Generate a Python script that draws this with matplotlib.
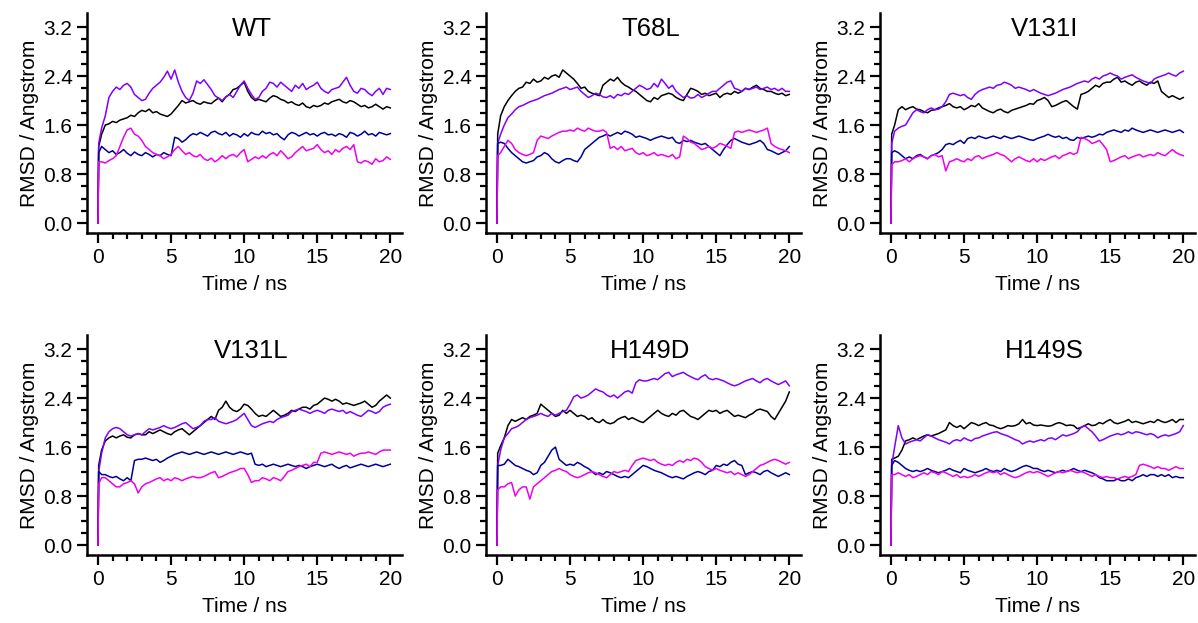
import numpy as np
import matplotlib
matplotlib.use('Agg')
import matplotlib.pyplot as plt
from matplotlib.ticker import FixedLocator, FormatStrFormatter

plt.rcParams['font.family'] = ['Liberation Sans', 'DejaVu Sans']

# time axis: t=0, first frame, then every 0.25 ns up to 20 ns
time_ns = np.concatenate([[0.0, 0.05], np.arange(1, 81) * 0.25])

panel_names = ['WT', 'T68L', 'V131I', 'V131L', 'H149D', 'H149S']

# ---------------- WT ----------------
wt_black = [0, 1.25,
    1.45, 1.6, 1.62, 1.66, 1.64, 1.68, 1.7, 1.72, 1.76, 1.74, 1.8, 1.84, 1.82, 1.86, 1.8, 1.82, 1.78, 1.76, 1.74, 1.78,
    1.85, 1.92, 2.0, 1.96, 1.98, 2.0, 1.96, 1.94, 1.98, 1.96, 1.95, 2.0, 2.04, 1.98, 2.06, 2.1, 2.18, 2.2, 2.25, 2.3,
    2.15, 2.05, 2.0, 2.02, 2.0, 1.98, 2.04, 2.08, 2.06, 2.02, 2.0, 1.96, 1.98, 1.94, 1.92, 1.96, 1.9, 1.88, 1.92, 1.9,
    1.92, 1.96, 1.94, 1.98, 2.0, 2.02, 1.98, 1.96, 2.0, 1.98, 1.94, 1.9, 1.92, 1.88, 1.9, 1.94, 1.9, 1.86, 1.9, 1.88]
wt_purple = [0, 1.3,
    1.55, 1.75, 2.05, 2.15, 2.22, 2.18, 2.25, 2.28, 2.22, 2.1, 2.05, 2.0, 2.02, 2.12, 2.2, 2.25, 2.3, 2.38, 2.48, 2.35,
    2.5, 2.3, 2.15, 2.05, 2.0, 2.12, 2.32, 2.28, 2.34, 2.26, 2.18, 2.08, 2.04, 2.0, 2.06, 2.1, 2.05, 2.15, 2.25, 2.32,
    2.2, 2.1, 2.02, 2.05, 2.15, 2.2, 2.3, 2.28, 2.22, 2.3, 2.25, 2.2, 2.15, 2.25, 2.2, 2.28, 2.18, 2.22, 2.25, 2.3,
    2.2, 2.15, 2.12, 2.18, 2.2, 2.22, 2.3, 2.38, 2.25, 2.15, 2.12, 2.2, 2.18, 2.12, 2.08, 2.15, 2.2, 2.1, 2.2, 2.18]
wt_blue = [0, 1.15,
    1.25, 1.2, 1.15, 1.18, 1.12, 1.15, 1.2, 1.14, 1.1, 1.16, 1.12, 1.1, 1.15, 1.12, 1.08, 1.12, 1.1, 1.15, 1.12, 1.1,
    1.4, 1.38, 1.32, 1.36, 1.42, 1.46, 1.44, 1.48, 1.45, 1.42, 1.48, 1.5, 1.46, 1.44, 1.48, 1.42, 1.46, 1.44, 1.4, 1.46,
    1.42, 1.48, 1.45, 1.44, 1.5, 1.46, 1.48, 1.44, 1.46, 1.4, 1.36, 1.44, 1.48, 1.46, 1.42, 1.45, 1.48, 1.44, 1.46, 1.42,
    1.46, 1.48, 1.44, 1.45, 1.42, 1.46, 1.44, 1.4, 1.48, 1.46, 1.42, 1.45, 1.5, 1.44, 1.46, 1.42, 1.48, 1.46, 1.44, 1.46]
wt_magenta = [0, 1.0,
    1.0, 0.98, 1.02, 1.05, 1.1, 1.25, 1.4, 1.52, 1.55, 1.45, 1.42, 1.35, 1.25, 1.2, 1.15, 1.12, 1.1, 1.05, 1.08, 1.12,
    1.2, 1.25, 1.18, 1.12, 1.15, 1.1, 1.08, 1.12, 1.05, 1.02, 1.06, 1.0, 1.04, 1.1, 1.05, 1.1, 1.12, 1.08, 1.15, 1.2,
    1.0, 1.04, 1.08, 1.05, 1.1, 1.06, 1.12, 1.15, 1.1, 1.18, 1.12, 1.05, 1.08, 1.15, 1.2, 1.25, 1.18, 1.2, 1.22, 1.28,
    1.2, 1.15, 1.18, 1.12, 1.2, 1.16, 1.22, 1.25, 1.2, 1.28, 1.0, 0.98, 1.02, 1.0, 0.96, 1.05, 1.0, 1.02, 1.08, 1.04]

# ---------------- T68L ----------------
t68l_black = [0, 1.45,
    1.75, 1.9, 2.0, 2.08, 2.15, 2.2, 2.22, 2.3, 2.28, 2.35, 2.3, 2.32, 2.38, 2.35, 2.4, 2.42, 2.38, 2.5, 2.45, 2.4,
    2.35, 2.28, 2.2, 2.22, 2.15, 2.12, 2.1, 2.08, 2.25, 2.3, 2.35, 2.32, 2.38, 2.3, 2.25, 2.22, 2.18, 2.15, 2.1, 2.05,
    2.0, 1.98, 2.05, 2.02, 2.08, 2.1, 2.12, 2.1, 2.05, 2.02, 2.0, 2.1, 2.2, 2.18, 2.15, 2.1, 2.12, 2.08, 2.1, 2.12,
    2.05, 2.1, 2.12, 2.1, 2.15, 2.12, 2.15, 2.2, 2.18, 2.22, 2.25, 2.2, 2.18, 2.15, 2.15, 2.12, 2.1, 2.12, 2.08, 2.1]
t68l_purple = [0, 1.3,
    1.45, 1.6, 1.72, 1.78, 1.85, 1.9, 1.92, 1.95, 1.98, 2.0, 2.02, 2.05, 2.08, 2.1, 2.12, 2.15, 2.18, 2.2, 2.22, 2.18,
    2.2, 2.22, 2.15, 2.1, 2.05, 2.08, 2.12, 2.1, 2.06, 2.05, 2.08, 2.04, 2.1, 2.08, 2.12, 2.1, 2.15, 2.2, 2.25, 2.22,
    2.18, 2.2, 2.28, 2.22, 2.35, 2.28, 2.2, 2.25, 2.15, 2.1, 2.05, 2.08, 2.04, 2.05, 2.1, 2.05, 2.08, 2.12, 2.15, 2.15,
    2.2, 2.25, 2.3, 2.32, 2.2, 2.18, 2.15, 2.2, 2.18, 2.2, 2.22, 2.18, 2.2, 2.22, 2.18, 2.2, 2.16, 2.2, 2.15, 2.15]
t68l_blue = [0, 1.3,
    1.32, 1.3, 1.22, 1.15, 1.1, 1.05, 1.0, 0.98, 1.0, 1.02, 1.08, 1.1, 1.15, 1.12, 1.05, 1.0, 0.98, 1.02, 1.05, 1.05,
    1.02, 1.0, 1.08, 1.2, 1.25, 1.3, 1.35, 1.4, 1.42, 1.45, 1.42, 1.45, 1.48, 1.45, 1.5, 1.48, 1.45, 1.4, 1.42, 1.4,
    1.38, 1.35, 1.38, 1.4, 1.42, 1.4, 1.38, 1.4, 1.32, 1.3, 1.35, 1.33, 1.35, 1.32, 1.3, 1.28, 1.3, 1.25, 1.2, 1.15,
    1.1, 1.2, 1.28, 1.35, 1.38, 1.35, 1.32, 1.3, 1.28, 1.3, 1.32, 1.35, 1.3, 1.2, 1.18, 1.15, 1.12, 1.15, 1.18, 1.25]
t68l_magenta = [0, 1.1,
    1.15, 1.25, 1.35, 1.3, 1.2, 1.15, 1.12, 1.1, 1.12, 1.15, 1.35, 1.42, 1.4, 1.38, 1.42, 1.45, 1.48, 1.5, 1.5, 1.52,
    1.5, 1.55, 1.52, 1.5, 1.55, 1.52, 1.5, 1.5, 1.52, 1.48, 1.22, 1.25, 1.2, 1.25, 1.18, 1.2, 1.22, 1.15, 1.12, 1.15,
    1.1, 1.12, 1.15, 1.1, 1.12, 1.1, 1.08, 1.12, 1.05, 1.08, 1.42, 1.38, 1.32, 1.3, 1.25, 1.2, 1.22, 1.25, 1.22, 1.25,
    1.3, 1.28, 1.25, 1.22, 1.48, 1.5, 1.48, 1.5, 1.52, 1.5, 1.48, 1.5, 1.52, 1.55, 1.3, 1.25, 1.22, 1.2, 1.18, 1.15]

# ---------------- V131I ----------------
v131i_black = [0, 1.45,
    1.6, 1.85, 1.9, 1.85, 1.88, 1.9, 1.86, 1.85, 1.82, 1.8, 1.84, 1.85, 1.88, 1.9, 1.92, 1.95, 1.9, 1.88, 1.9, 1.85,
    1.88, 1.92, 1.9, 1.95, 1.88, 1.85, 1.82, 1.8, 1.84, 1.86, 1.82, 1.8, 1.84, 1.86, 1.88, 1.9, 1.92, 1.95, 1.94, 2.0,
    2.02, 2.05, 2.0, 1.9, 1.92, 1.95, 1.98, 2.0, 1.95, 1.9, 1.86, 2.1, 2.12, 2.15, 2.2, 2.25, 2.22, 2.28, 2.3, 2.3,
    2.35, 2.38, 2.3, 2.32, 2.28, 2.25, 2.3, 2.32, 2.28, 2.25, 2.3, 2.28, 2.32, 2.15, 2.1, 2.05, 2.08, 2.05, 2.02, 2.05]
v131i_purple = [0, 1.3,
    1.5, 1.55, 1.58, 1.6, 1.7, 1.8, 1.85, 1.82, 1.8, 1.85, 1.88, 1.85, 1.86, 1.9, 1.98, 2.1, 2.12, 2.1, 2.08, 2.1,
    2.05, 2.02, 2.1, 2.15, 2.18, 2.2, 2.22, 2.2, 2.25, 2.26, 2.3, 2.28, 2.25, 2.2, 2.22, 2.2, 2.18, 2.15, 2.18, 2.15,
    2.12, 2.1, 2.08, 2.1, 2.12, 2.15, 2.18, 2.2, 2.22, 2.25, 2.28, 2.3, 2.32, 2.3, 2.35, 2.38, 2.35, 2.4, 2.42, 2.45,
    2.42, 2.4, 2.35, 2.38, 2.4, 2.42, 2.38, 2.35, 2.32, 2.3, 2.28, 2.35, 2.38, 2.4, 2.42, 2.45, 2.42, 2.4, 2.45, 2.48]
v131i_blue = [0, 1.15,
    1.18, 1.15, 1.1, 1.05, 1.08, 1.05, 1.1, 1.12, 1.08, 1.05, 1.1, 1.12, 1.15, 1.2, 1.28, 1.3, 1.28, 1.32, 1.35, 1.3,
    1.38, 1.4, 1.38, 1.42, 1.4, 1.38, 1.4, 1.42, 1.4, 1.38, 1.42, 1.4, 1.38, 1.4, 1.42, 1.4, 1.38, 1.36, 1.35, 1.38,
    1.4, 1.42, 1.45, 1.42, 1.4, 1.42, 1.38, 1.4, 1.36, 1.35, 1.4, 1.38, 1.4, 1.42, 1.4, 1.42, 1.45, 1.44, 1.48, 1.5,
    1.52, 1.5, 1.48, 1.52, 1.5, 1.55, 1.52, 1.5, 1.48, 1.5, 1.52, 1.5, 1.48, 1.5, 1.52, 1.5, 1.48, 1.5, 1.52, 1.48]
v131i_magenta = [0, 0.95,
    1.0, 1.0, 1.02, 1.05, 1.0, 1.05, 1.08, 1.1, 1.08, 1.05, 1.1, 1.12, 1.08, 1.1, 0.85, 1.0, 1.02, 1.05, 1.02, 1.0,
    1.05, 1.02, 1.08, 1.1, 1.05, 1.08, 1.1, 1.12, 1.15, 1.12, 1.1, 1.05, 1.0, 1.05, 1.08, 1.05, 1.02, 1.0, 1.05, 1.0,
    1.05, 1.02, 1.05, 1.08, 1.1, 1.05, 1.1, 1.12, 1.15, 1.12, 1.15, 1.4, 1.38, 1.35, 1.3, 1.32, 1.35, 1.28, 1.2, 1.0,
    1.02, 1.05, 1.08, 1.1, 1.05, 1.08, 1.1, 1.12, 1.08, 1.1, 1.12, 1.1, 1.15, 1.12, 1.1, 1.15, 1.2, 1.15, 1.12, 1.1]

# ---------------- V131L ----------------
v131l_black = [0, 1.3,
    1.55, 1.7, 1.75, 1.78, 1.75, 1.78, 1.8, 1.76, 1.75, 1.8, 1.82, 1.8, 1.8, 1.85, 1.82, 1.85, 1.88, 1.85, 1.82, 1.8,
    1.85, 1.88, 1.9, 1.85, 1.8, 1.85, 1.9, 1.95, 2.0, 2.05, 2.1, 2.05, 2.2, 2.25, 2.35, 2.25, 2.2, 2.18, 2.22, 2.3,
    2.28, 2.22, 2.15, 2.1, 2.12, 2.1, 2.15, 2.2, 2.15, 2.1, 2.12, 2.15, 2.2, 2.18, 2.22, 2.25, 2.25, 2.22, 2.28, 2.3,
    2.35, 2.4, 2.38, 2.35, 2.38, 2.35, 2.3, 2.32, 2.3, 2.28, 2.3, 2.32, 2.35, 2.3, 2.25, 2.28, 2.35, 2.4, 2.45, 2.4]
v131l_purple = [0, 1.2,
    1.5, 1.75, 1.85, 1.9, 1.92, 1.9, 1.85, 1.8, 1.78, 1.8, 1.82, 1.8, 1.85, 1.9, 1.88, 1.9, 1.92, 1.95, 1.92, 1.9,
    1.92, 1.95, 1.98, 2.0, 1.95, 1.9, 1.92, 1.95, 2.02, 2.05, 2.05, 2.08, 2.02, 2.0, 1.98, 2.0, 2.02, 2.05, 2.1, 2.15,
    2.05, 1.95, 1.92, 1.95, 1.98, 2.0, 2.02, 2.0, 2.05, 2.08, 2.1, 2.12, 2.18, 2.2, 2.22, 2.2, 2.18, 2.15, 2.18, 2.2,
    2.18, 2.15, 2.2, 2.22, 2.2, 2.18, 2.2, 2.15, 2.18, 2.15, 2.12, 2.1, 2.15, 2.2, 2.18, 2.15, 2.18, 2.25, 2.28, 2.3]
v131l_blue = [0, 1.2,
    1.15, 1.15, 1.12, 1.1, 1.12, 1.08, 1.05, 1.1, 1.05, 1.38, 1.4, 1.4, 1.42, 1.4, 1.38, 1.4, 1.35, 1.38, 1.42, 1.45,
    1.48, 1.5, 1.52, 1.5, 1.48, 1.5, 1.52, 1.5, 1.48, 1.5, 1.52, 1.5, 1.48, 1.5, 1.52, 1.5, 1.48, 1.5, 1.52, 1.5,
    1.48, 1.5, 1.32, 1.3, 1.32, 1.28, 1.3, 1.32, 1.3, 1.28, 1.3, 1.32, 1.3, 1.28, 1.3, 1.28, 1.25, 1.28, 1.3, 1.32,
    1.3, 1.28, 1.3, 1.32, 1.28, 1.25, 1.28, 1.3, 1.26, 1.28, 1.3, 1.32, 1.3, 1.28, 1.3, 1.32, 1.3, 1.28, 1.3, 1.32]
v131l_magenta = [0, 1.0,
    1.1, 1.1, 1.05, 1.0, 0.95, 0.95, 1.0, 1.02, 1.05, 1.0, 0.85, 0.95, 1.0, 1.02, 1.05, 1.08, 1.1, 1.05, 1.08, 1.05,
    1.1, 1.08, 1.05, 1.08, 1.1, 1.12, 1.1, 1.1, 1.12, 1.15, 1.18, 1.2, 1.1, 1.12, 1.15, 1.18, 1.2, 1.22, 1.25, 1.25,
    1.15, 1.02, 1.05, 1.05, 1.1, 1.08, 1.05, 1.1, 1.08, 1.05, 1.12, 1.2, 1.22, 1.25, 1.28, 1.3, 1.32, 1.28, 1.35, 1.35,
    1.5, 1.52, 1.5, 1.48, 1.5, 1.52, 1.5, 1.48, 1.5, 1.45, 1.48, 1.5, 1.5, 1.52, 1.5, 1.48, 1.52, 1.55, 1.55, 1.55]

# ---------------- H149D ----------------
h149d_black = [0, 1.5,
    1.62, 1.75, 1.95, 2.05, 2.02, 2.05, 2.08, 2.05, 2.1, 2.12, 2.15, 2.3, 2.25, 2.2, 2.15, 2.1, 2.12, 2.2, 2.15, 2.2,
    2.15, 2.1, 2.12, 2.1, 2.05, 2.08, 2.02, 2.0, 2.05, 2.0, 1.98, 2.0, 2.05, 2.08, 2.1, 2.05, 2.08, 2.05, 2.02, 2.0,
    2.05, 2.1, 2.15, 2.2, 2.15, 2.12, 2.1, 2.15, 2.12, 2.18, 2.2, 2.15, 2.1, 2.08, 2.05, 2.1, 2.15, 2.2, 2.18, 2.2,
    2.15, 2.18, 2.2, 2.15, 2.1, 2.12, 2.1, 2.08, 2.12, 2.15, 2.2, 2.22, 2.2, 2.18, 2.1, 2.05, 2.15, 2.25, 2.35, 2.5]
h149d_purple = [0, 1.3,
    1.55, 1.75, 1.82, 1.9, 1.92, 1.95, 2.0, 2.05, 2.08, 2.1, 2.12, 2.15, 2.12, 2.1, 2.15, 2.12, 2.15, 2.18, 2.2, 2.3,
    2.42, 2.45, 2.4, 2.42, 2.45, 2.5, 2.55, 2.52, 2.5, 2.45, 2.42, 2.45, 2.4, 2.45, 2.5, 2.52, 2.48, 2.65, 2.7, 2.68,
    2.68, 2.7, 2.72, 2.7, 2.75, 2.8, 2.82, 2.75, 2.78, 2.8, 2.82, 2.78, 2.75, 2.72, 2.7, 2.75, 2.78, 2.72, 2.7, 2.72,
    2.7, 2.68, 2.65, 2.62, 2.6, 2.62, 2.65, 2.68, 2.7, 2.72, 2.68, 2.65, 2.7, 2.72, 2.68, 2.65, 2.62, 2.65, 2.68, 2.6]
h149d_blue = [0, 1.3,
    1.3, 1.32, 1.4, 1.35, 1.3, 1.28, 1.25, 1.22, 1.2, 1.15, 1.18, 1.3, 1.35, 1.45, 1.55, 1.6, 1.4, 1.35, 1.3, 1.32,
    1.3, 1.35, 1.32, 1.28, 1.25, 1.2, 1.15, 1.18, 1.15, 1.2, 1.18, 1.15, 1.12, 1.1, 1.12, 1.1, 1.15, 1.2, 1.25, 1.3,
    1.28, 1.25, 1.22, 1.2, 1.18, 1.15, 1.12, 1.1, 1.12, 1.1, 1.08, 1.12, 1.15, 1.18, 1.2, 1.18, 1.15, 1.2, 1.22, 1.3,
    1.28, 1.32, 1.3, 1.35, 1.38, 1.32, 1.3, 1.15, 1.18, 1.2, 1.18, 1.15, 1.2, 1.22, 1.18, 1.15, 1.12, 1.15, 1.18, 1.15]
h149d_magenta = [0, 0.9,
    0.95, 0.95, 1.0, 1.02, 0.8, 0.9, 0.95, 0.95, 0.75, 0.95, 1.0, 1.05, 1.1, 1.15, 1.2, 1.22, 1.25, 1.22, 1.2, 1.15,
    1.12, 1.1, 1.12, 1.15, 1.18, 1.2, 1.18, 1.15, 1.12, 1.1, 1.15, 1.2, 1.18, 1.2, 1.22, 1.2, 1.3, 1.38, 1.4, 1.42,
    1.4, 1.38, 1.4, 1.35, 1.32, 1.3, 1.32, 1.3, 1.35, 1.38, 1.35, 1.4, 1.38, 1.42, 1.4, 1.35, 1.28, 1.25, 1.22, 1.25,
    1.22, 1.2, 1.18, 1.2, 1.15, 1.18, 1.15, 1.12, 1.15, 1.2, 1.25, 1.3, 1.32, 1.35, 1.38, 1.4, 1.38, 1.35, 1.32, 1.35]

# ---------------- H149S ----------------
h149s_black = [0, 1.4,
    1.42, 1.45, 1.55, 1.7, 1.72, 1.75, 1.72, 1.75, 1.78, 1.8, 1.78, 1.8, 1.82, 1.85, 1.88, 2.0, 1.95, 1.92, 1.95, 1.9,
    1.95, 2.0, 1.98, 1.95, 1.98, 2.0, 1.96, 1.95, 1.92, 1.9, 1.92, 1.95, 1.94, 1.95, 1.98, 2.05, 1.98, 2.0, 1.96, 1.95,
    1.96, 1.95, 1.94, 1.95, 1.98, 2.0, 1.98, 1.95, 1.96, 1.95, 1.9, 1.92, 1.95, 1.98, 1.95, 1.96, 2.0, 1.98, 2.02, 2.05,
    2.0, 1.98, 2.0, 2.02, 2.05, 2.0, 2.02, 2.0, 1.98, 2.0, 2.02, 2.0, 2.05, 2.02, 2.0, 2.02, 2.05, 2.0, 2.05, 2.05]
h149s_purple = [0, 1.3,
    1.6, 1.95, 1.75, 1.65, 1.68, 1.7, 1.72, 1.7, 1.75, 1.8, 1.78, 1.75, 1.72, 1.7, 1.68, 1.65, 1.7, 1.72, 1.7, 1.75,
    1.72, 1.7, 1.74, 1.75, 1.78, 1.8, 1.82, 1.84, 1.85, 1.82, 1.8, 1.78, 1.75, 1.72, 1.7, 1.65, 1.68, 1.7, 1.68, 1.7,
    1.72, 1.7, 1.74, 1.75, 1.72, 1.76, 1.8, 1.78, 1.8, 1.82, 1.85, 1.92, 1.95, 1.9, 1.85, 1.78, 1.7, 1.72, 1.75, 1.78,
    1.8, 1.82, 1.8, 1.82, 1.85, 1.82, 1.85, 1.84, 1.82, 1.8, 1.82, 1.8, 1.75, 1.78, 1.8, 1.78, 1.8, 1.82, 1.85, 1.95]
h149s_blue = [0, 1.3,
    1.38, 1.35, 1.3, 1.25, 1.22, 1.2, 1.22, 1.2, 1.22, 1.25, 1.22, 1.2, 1.18, 1.2, 1.22, 1.25, 1.22, 1.2, 1.18, 1.25,
    1.22, 1.2, 1.18, 1.2, 1.22, 1.25, 1.22, 1.2, 1.22, 1.2, 1.25, 1.22, 1.2, 1.22, 1.25, 1.28, 1.3, 1.28, 1.25, 1.25,
    1.22, 1.2, 1.22, 1.2, 1.18, 1.2, 1.22, 1.2, 1.22, 1.25, 1.22, 1.2, 1.22, 1.2, 1.18, 1.15, 1.1, 1.08, 1.05, 1.05,
    1.05, 1.08, 1.05, 1.05, 1.08, 1.05, 1.1, 1.12, 1.15, 1.12, 1.15, 1.15, 1.12, 1.15, 1.12, 1.15, 1.1, 1.12, 1.1, 1.1]
h149s_magenta = [0, 1.15,
    1.15, 1.18, 1.15, 1.12, 1.15, 1.1, 1.12, 1.15, 1.18, 1.15, 1.2, 1.18, 1.15, 1.2, 1.18, 1.15, 1.12, 1.15, 1.1, 1.12,
    1.1, 1.12, 1.15, 1.12, 1.15, 1.18, 1.2, 1.18, 1.2, 1.15, 1.18, 1.15, 1.12, 1.1, 1.12, 1.15, 1.18, 1.2, 1.18, 1.2,
    1.18, 1.15, 1.12, 1.15, 1.18, 1.2, 1.18, 1.2, 1.22, 1.2, 1.18, 1.2, 1.18, 1.15, 1.12, 1.15, 1.12, 1.1, 1.12, 1.1,
    1.1, 1.08, 1.1, 1.12, 1.1, 1.12, 1.15, 1.3, 1.32, 1.3, 1.28, 1.25, 1.28, 1.25, 1.25, 1.22, 1.25, 1.28, 1.25, 1.25]

series = [
    [wt_black, wt_purple, wt_blue, wt_magenta],
    [t68l_black, t68l_purple, t68l_blue, t68l_magenta],
    [v131i_black, v131i_purple, v131i_blue, v131i_magenta],
    [v131l_black, v131l_purple, v131l_blue, v131l_magenta],
    [h149d_black, h149d_purple, h149d_blue, h149d_magenta],
    [h149s_black, h149s_purple, h149s_blue, h149s_magenta],
]
colors = ['#000000', '#8000ff', '#000099', '#ee00ee']

W, H = 1198, 623
fig = plt.figure(figsize=(W / 100, H / 100), dpi=100)

# axes boxes in pixels: left, top
lefts = [87, 486, 880]
tops = [13, 335]
ax_w, ax_h = 315, 220

counter = -1
for row in range(2):
    for col in range(3):
        counter += 1
        ax = fig.add_axes([lefts[col] / W, 1 - (tops[row] + ax_h) / H, ax_w / W, ax_h / H])
        for k in range(4):
            ax.plot(time_ns, series[counter][k], color=colors[k], lw=1.1)
        ax.set_xlim(-0.75, 20.8)
        ax.set_ylim(-0.163, 3.43)
        ax.spines['top'].set_visible(False)
        ax.spines['right'].set_visible(False)
        ax.spines['left'].set_linewidth(1.8)
        ax.spines['bottom'].set_linewidth(1.8)
        ax.xaxis.set_major_locator(FixedLocator([0, 5, 10, 15, 20]))
        ax.xaxis.set_minor_locator(FixedLocator(np.arange(0, 21, 1)))
        ax.yaxis.set_major_locator(FixedLocator([0.0, 0.8, 1.6, 2.4, 3.2]))
        ax.yaxis.set_minor_locator(FixedLocator(np.arange(0, 3.21, 0.2)))
        ax.yaxis.set_major_formatter(FormatStrFormatter('%.1f'))
        ax.tick_params(which='major', direction='out', length=7, width=1.6, labelsize=15, pad=3.5)
        ax.tick_params(which='minor', direction='out', length=4.5, width=1.6)
        ax.set_xlabel('Time / ns', fontsize=15, labelpad=6)
        ax.set_ylabel('RMSD / Angstrom', fontsize=15, labelpad=3)
        ax.text(10.5, 3.05, panel_names[counter], ha='center', va='baseline', fontsize=18.5)

fig.savefig('out.png', dpi=100)
